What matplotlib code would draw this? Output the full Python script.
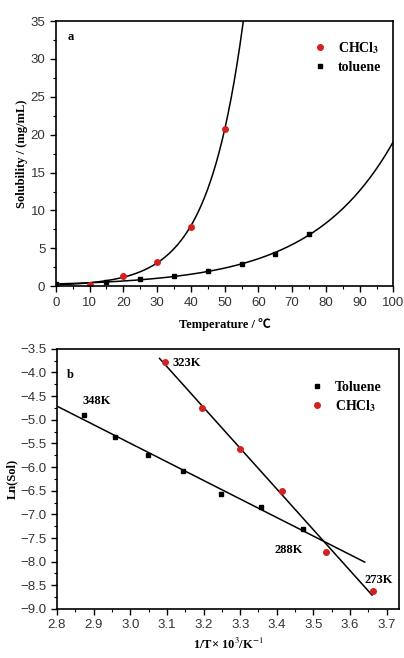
import numpy as np
import matplotlib
matplotlib.use("Agg")
import matplotlib.pyplot as plt
from matplotlib.ticker import MultipleLocator

# panel a: solubility vs temperature
chcl3_t = [0, 10, 20, 30, 40, 50]
chcl3_s = [0.1, 0.2, 1.3, 3.2, 7.8, 20.7]
tol_t = [0, 15, 25, 35, 45, 55, 65, 75]
tol_s = [0.3, 0.6, 1.0, 1.3, 2.0, 2.9, 4.2, 6.9]

# panel b: ln(sol) vs 1/T
tol_invT = [2.874, 2.959, 3.049, 3.145, 3.247, 3.356, 3.472]
tol_ln = [-4.9, -5.37, -5.75, -6.08, -6.56, -6.85, -7.3]
chcl3_invT = [3.096, 3.195, 3.300, 3.413, 3.534, 3.663]
chcl3_ln = [-3.78, -4.75, -5.62, -6.5, -7.8, -8.62]
temp_labels = ["348K", "323K", "288K", "273K"]
temp_label_xy = [(2.87, -4.6), (3.115, -3.8), (3.395, -7.76), (3.64, -8.39)]

serif = ["Liberation Serif", "Noto Sans CJK SC", "DejaVu Sans"]
sans = "Liberation Sans"
plt.rcParams["mathtext.fontset"] = "stix"

fig = plt.figure(figsize=(4.04, 6.58), dpi=100)
axa = fig.add_axes([0.138, 0.565, 0.836, 0.403])
axb = fig.add_axes([0.141, 0.0745, 0.847, 0.3955])

# exponential fits (log-linear, weighted to the larger values) through the read points
pc = np.polyfit(chcl3_t[2:], np.log(chcl3_s[2:]), 1, w=np.array(chcl3_s[2:]))
pt = np.polyfit(tol_t[1:], np.log(tol_s[1:]), 1, w=np.array(tol_s[1:]))
xc = np.linspace(0, 58, 200)
xt = np.linspace(0, 100, 200)
axa.plot(xc, np.exp(np.polyval(pc, xc)), color="black", lw=1.1, zorder=1)
axa.plot(xt, np.exp(np.polyval(pt, xt)), color="black", lw=1.1, zorder=1)
axa.plot(chcl3_t, chcl3_s, "o", color="#d42020", ms=4, ls="none", label=r"CHCl$_\mathbf{3}$", zorder=2)
axa.plot(tol_t, tol_s, "s", color="black", ms=3.5, ls="none", label="toluene", zorder=2)
axa.set_xlim(0, 100)
axa.set_ylim(0, 35)
axa.xaxis.set_major_locator(MultipleLocator(10))
axa.xaxis.set_minor_locator(MultipleLocator(5))
axa.yaxis.set_major_locator(MultipleLocator(5))
axa.yaxis.set_minor_locator(MultipleLocator(2.5))
axa.set_xlabel("Temperature / ℃", family=serif, fontweight="bold", fontsize=9, labelpad=7)
axa.set_ylabel("Solubility / (mg/mL)", family=serif, fontweight="bold", fontsize=9)
axa.text(0.035, 0.94, "a", transform=axa.transAxes, family=serif,
         fontweight="bold", fontsize=9, va="center")
axa.legend(loc="upper right", bbox_to_anchor=(1.0, 0.975), frameon=False,
           prop={"family": serif, "weight": "bold", "size": 10},
           handletextpad=0.3, labelspacing=0.35)

# linear fits for panel b
lt = np.polyfit(tol_invT, tol_ln, 1)
lc = np.polyfit(chcl3_invT, chcl3_ln, 1)
xlt = np.array([2.8, 3.64])
xlc = np.array([3.08, 3.66])
axb.plot(xlt, np.polyval(lt, xlt), color="black", lw=1.1, zorder=1)
axb.plot(xlc, np.polyval(lc, xlc), color="black", lw=1.1, zorder=1)
axb.plot(tol_invT, tol_ln, "s", color="black", ms=3.5, ls="none", label="Toluene", zorder=2)
axb.plot(chcl3_invT, chcl3_ln, "o", color="#d42020", ms=4, ls="none", label=r"CHCl$_\mathbf{3}$", zorder=2)
for lab, (x, y) in zip(temp_labels, temp_label_xy):
    axb.text(x, y, lab, family=serif, fontweight="bold", fontsize=9, va="center")
axb.set_xlim(2.8, 3.734)
axb.set_ylim(-9.0, -3.5)
axb.xaxis.set_major_locator(MultipleLocator(0.1))
axb.xaxis.set_minor_locator(MultipleLocator(0.05))
axb.yaxis.set_major_locator(MultipleLocator(0.5))
axb.yaxis.set_minor_locator(MultipleLocator(0.25))
axb.set_xlabel("1/T× 10$^3$/K$^{-1}$", family=serif, fontweight="bold", fontsize=9)
axb.set_ylabel("Ln(Sol)", family=serif, fontweight="bold", fontsize=9)
axb.text(0.03, 0.9, "b", transform=axb.transAxes, family=serif,
         fontweight="bold", fontsize=9, va="center")
axb.legend(loc="upper right", bbox_to_anchor=(0.985, 0.925), frameon=False,
           prop={"family": serif, "weight": "bold", "size": 10},
           handletextpad=0.3, labelspacing=0.3)

for ax in (axa, axb):
    ax.tick_params(which="both", direction="out", top=False, right=False,
                   labelsize=9.5, labelcolor="#333333")
    ax.tick_params(which="major", length=4, width=1)
    ax.tick_params(which="minor", length=2, width=0.8)
    for sp in ax.spines.values():
        sp.set_linewidth(1.2)
    ax.yaxis.labelpad = 2

axa.set_yticks(axa.get_yticks())
axa.set_yticklabels([str(int(v)) for v in axa.get_yticks()])
axa.set_xticks(axa.get_xticks())
axa.set_xticklabels([str(int(v)) for v in axa.get_xticks()])
axa.set_xlim(0, 100)
axa.set_ylim(0, 35)
for ax in (axa, axb):
    for lbl in ax.get_xticklabels() + ax.get_yticklabels():
        lbl.set_fontfamily(sans)

fig.savefig("out.png", dpi=100)
